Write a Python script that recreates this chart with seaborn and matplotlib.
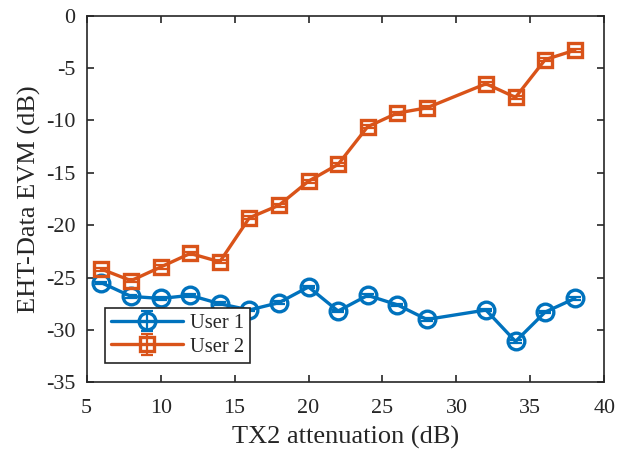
import numpy as np
import pandas as pd
import seaborn as sns
import matplotlib
matplotlib.use("Agg")
import matplotlib.pyplot as plt
from matplotlib.legend_handler import HandlerTuple

# Data
attenuation = [6, 8, 10, 12, 14, 16, 18, 20, 22, 24, 26, 28, 32, 34, 36, 38]
user1_evm = [-25.5, -26.8, -27.0, -26.7, -27.5, -28.1, -27.4, -25.9, -28.2, -26.7, -27.6, -29.0, -28.1, -31.1, -28.3, -27.0]
user2_evm = [-24.2, -25.3, -24.0, -22.7, -23.5, -19.3, -18.1, -15.8, -14.2, -10.6, -9.3, -8.8, -6.5, -7.8, -4.2, -3.3]
user1_err = [0.12] * len(attenuation)
user2_err = [0.15] * len(attenuation)
series_names = ["User 1", "User 2"]
x_ticks = [5, 10, 15, 20, 25, 30, 35, 40]
y_ticks = [0, -5, -10, -15, -20, -25, -30, -35]

sns.set_theme(style="white")
plt.rcParams['font.family'] = ['Liberation Serif', 'DejaVu Serif']

colors = ["#0072BD", "#D95319"]
markers = ["o", "s"]
msizes = [12, 10]

df = pd.DataFrame({
    "att": attenuation * 2,
    "evm": user1_evm + user2_evm,
    "err": user1_err + user2_err,
    "user": [series_names[0]] * len(attenuation) + [series_names[1]] * len(attenuation),
})

fig = plt.figure(figsize=(6.29, 4.49), dpi=100)
ax = fig.add_axes([0.1378, 0.1486, 0.8229, 0.8165])

handles = []
for i, name in enumerate(series_names):
    sub = df[df["user"] == name]
    sns.lineplot(data=sub, x="att", y="evm", ax=ax, color=colors[i], linewidth=2.4,
                 marker=markers[i], markersize=msizes[i], markerfacecolor="none",
                 markeredgecolor=colors[i], markeredgewidth=2.4, legend=False,
                 errorbar=None)
    ln = ax.lines[-1]
    ec = ax.errorbar(sub["att"], sub["evm"], yerr=sub["err"], fmt="none",
                     ecolor=colors[i], elinewidth=1.6, capsize=4.0, capthick=1.6)
    handles.append((ln, ec))

ax.set_xlim(5, 40)
ax.set_ylim(-35, 0)
ax.set_xticks(x_ticks)
ax.set_yticks(y_ticks)
ax.set_yticklabels([str(t) for t in y_ticks])
ax.set_xlabel("TX2 attenuation (dB)", fontsize=19, labelpad=6, color="#262626")
ax.set_ylabel("EHT-Data EVM (dB)", fontsize=19, labelpad=4, color="#262626")
ax.tick_params(axis="both", which="both", direction="in", length=5, width=1.2,
               labelsize=15.8, top=True, right=True, bottom=True, left=True,
               colors="#262626", labelcolor="#262626")
ax.tick_params(axis="x", pad=12)
ax.tick_params(axis="y", pad=8)
for s in ax.spines.values():
    s.set_color("#262626")
    s.set_linewidth(1.2)
    s.set_visible(True)

leg = ax.legend(handles, series_names, loc="lower left", bbox_to_anchor=(0.035, 0.053),
                borderaxespad=0, fontsize=14.8, frameon=True, fancybox=False,
                edgecolor="#262626", framealpha=1.0,
                handlelength=3.5, borderpad=0.3, labelspacing=0.2, handletextpad=0.35,
                handler_map={tuple: HandlerTuple(ndivide=1)})
leg.get_frame().set_linewidth(1.2)
leg.set_zorder(10)

fig.savefig("out.png", dpi=100, facecolor="white")
